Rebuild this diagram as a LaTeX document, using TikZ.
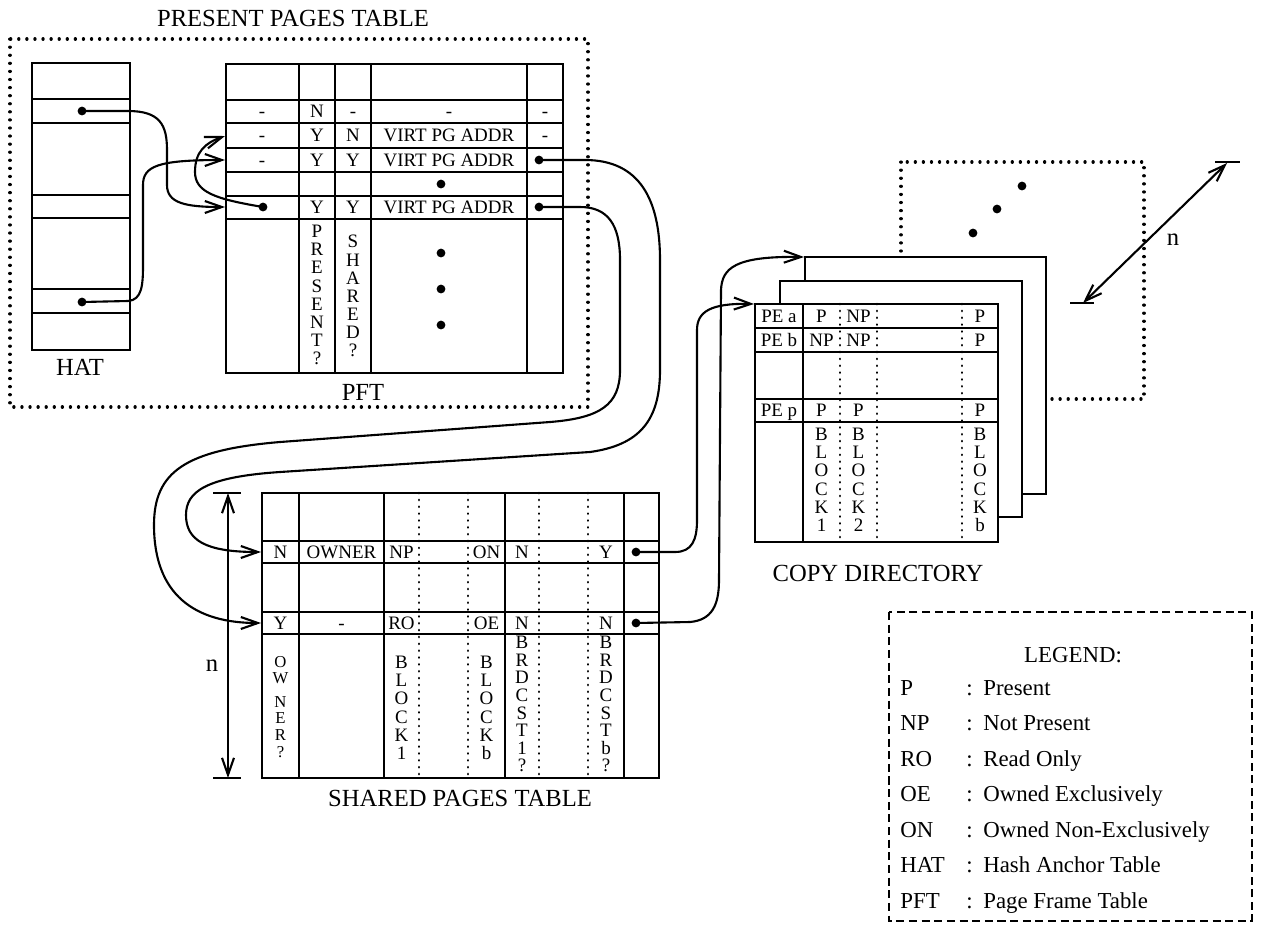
\documentclass[tikz,border=0pt]{standalone}
\usepackage{fontspec}
\setmainfont{Liberation Serif}
\usetikzlibrary{arrows.meta,positioning,calc}

\begin{document}
\begin{tikzpicture}[
  x=0.02cm, y=-0.02cm,
  tbl/.style={line width=1.6pt},
  grid/.style={line width=1.2pt},
  dotline/.style={line width=1.5pt, dash pattern=on 0.1pt off 3.8pt, line cap=round},
  frame/.style={line width=1.8pt, dash pattern=on 0.1pt off 4.5pt, line cap=round},
  legendbox/.style={line width=1.3pt, dash pattern=on 4.6pt off 2.6pt},
  cell/.style={font=\fontsize{10.8}{12}\selectfont, inner sep=0pt, anchor=base},
  stack/.style={font=\fontsize{10.8}{10.3}\selectfont, align=center, inner sep=0pt, anchor=north},
  title/.style={font=\fontsize{14}{16}\selectfont, inner sep=0pt},
  legend/.style={font=\fontsize{13}{15}\selectfont, inner sep=0pt, anchor=base west},
  link/.style={line width=1.2pt, -{Straight Barb[length=3.4mm,width=2.4mm]}},
  dimline/.style={line width=1.2pt, {Straight Barb[length=3.4mm,width=2.4mm]}-{Straight Barb[length=3.4mm,width=2.4mm]}},
  ptr/.style={circle, fill, inner sep=0pt, minimum size=5pt},
]
\useasboundingbox (0,0) rectangle (1261,924);

% --- Present pages table (frame) ---
\draw[frame] (10,39) rectangle (588,407);
\node[title] (pptlbl) at (293,18) {PRESENT PAGES TABLE};

% --- HAT ---
\draw[tbl] (32,63) rectangle (130,350);
\foreach \y in {99,123,195,218,289,313}
  \draw[grid] (32,\y) -- (130,\y);
\node[ptr] (hatA) at (82,111) {};
\node[ptr] (hatB) at (82,302) {};
\node[title] (hatlbl) at (80,367) {HAT};

% --- PFT ---
\draw[tbl] (226,64) rectangle (563,373);
\foreach \y in {100,123,148,172,196,219}
  \draw[grid] (226,\y) -- (563,\y);
\foreach \x in {299,335,371,527}
  \draw[grid] (\x,64) -- (\x,373);
\foreach \n/\x/\y/\t in {a1/262/117.5/-, a2/317/117.5/N, a3/353/117.5/-, a4/449/117.5/-, a5/545/117.5/-,
    b1/262/141.5/-, b2/317/141.5/Y, b3/353/141.5/N, b4/449/141.5/VIRT PG ADDR, b5/545/141.5/-,
    c1/262/166/-, c2/317/166/Y, c3/353/166/Y, c4/449/166/VIRT PG ADDR,
    e2/317/213.5/Y, e3/353/213.5/Y, e4/449/213.5/VIRT PG ADDR}
  \node[cell] (pft-\n) at (\x,\y) {\t};
\node[ptr] (pftR1) at (539,160) {};
\node[ptr] (pftP) at (263,207) {};
\node[ptr] (pftR2) at (539,207) {};
\node[ptr] (pftdot0) at (441,184) {};
\foreach \y [count=\i] in {253,289,325}
  \node[ptr] (pftdot\i) at (441,\y) {};
\node[stack] (present) at (317,225) {P\\R\\E\\S\\E\\N\\T\\?};
\node[stack] (shared) at (353,235) {S\\H\\A\\R\\E\\D\\?};
\node[title] (pftlbl) at (363,392) {PFT};

% --- Shared pages table ---
\draw[tbl] (262,493) rectangle (659,778);
\foreach \y in {541,563,612,634}
  \draw[grid] (262,\y) -- (659,\y);
\foreach \x in {299,384,505,624}
  \draw[grid] (\x,493) -- (\x,778);
\foreach \x in {419,468,539,588}
  \draw[dotline] (\x,493) -- (\x,778);
\foreach \n/\x/\y/\t in {a1/280.5/558/N, a2/341.5/558/OWNER, a3/401.5/558/NP, a4/486.5/558/ON, a5/522/558/N, a6/606/558/Y,
    b1/280.5/629/Y, b2/341.5/629/-, b3/401.5/629/RO, b4/486.5/629/OE, b5/522/629/N, b6/606/629/N}
  \node[cell] (spt-\n) at (\x,\y) {\t};
\node[ptr] (sptR1) at (636,552) {};
\node[ptr] (sptR2) at (636,623) {};
\node[stack, font=\fontsize{9.5}{9.4}\selectfont] (owner) at (280.5,656) {O\\W\\[4pt]N\\E\\R\\?};
\node[stack] (blk1) at (401.5,656) {B\\L\\O\\C\\K\\1};
\node[stack] (blkb) at (486.5,656) {B\\L\\O\\C\\K\\b};
\node[stack, font=\fontsize{10.8}{10}\selectfont] (brd1) at (522,636) {B\\R\\D\\C\\S\\T\\1\\?};
\node[stack, font=\fontsize{10.8}{10}\selectfont] (brdb) at (606,636) {B\\R\\D\\C\\S\\T\\b\\?};
\node[title] (sptlbl) at (460,798) {SHARED PAGES TABLE};

% --- dimension n (shared pages) ---
\draw[grid] (213,493) -- (241,493);
\draw[grid] (213,778) -- (241,778);
\coordinate (ntop) at (228,493);
\coordinate (nbot) at (228,778);
\draw[dimline] (ntop) -- (nbot);
\node[title] (nlbl) at (212,666) {n};

% --- Copy directory ---
\draw[frame] (901,162) rectangle (1144,399);
\foreach \x/\y [count=\i] in {1022/186,997/209,973/233}
  \node[ptr] (cddot\i) at (\x,\y) {};
\draw[tbl, fill=white] (805,257) rectangle (1046,494);
\draw[tbl, fill=white] (780,281) rectangle (1022,517);
\draw[tbl, fill=white] (755,304) rectangle (998,542);
\foreach \y in {328,352,399,422}
  \draw[grid] (755,\y) -- (998,\y);
\draw[grid] (803,304) -- (803,542);
\foreach \x in {840,877,962}
  \draw[dotline] (\x,304) -- (\x,542);
\foreach \n/\x/\y/\t in {a1/779/322/PE a, a2/821.5/322/P, a3/858.5/322/NP, a5/980/322/P,
    b1/779/346/PE b, b2/821.5/346/NP, b3/858.5/346/NP, b5/980/346/P,
    p1/779/416.5/PE p, p2/821.5/416.5/P, p3/858.5/416.5/P, p5/980/416.5/P}
  \node[cell] (cd-\n) at (\x,\y) {\t};
\node[stack] (cdblk1) at (821.5,428) {B\\L\\O\\C\\K\\1};
\node[stack] (cdblk2) at (858.5,428) {B\\L\\O\\C\\K\\2};
\node[stack] (cdblkb) at (980,428) {B\\L\\O\\C\\K\\b};
\node[title] (cdlbl) at (878,573) {COPY DIRECTORY};

% --- dimension n (copy directory) ---
\draw[grid] (1070,303) -- (1094,303);
\draw[grid] (1215,162) -- (1240,162);
\coordinate (mlow) at (1083,303);
\coordinate (mhigh) at (1227,163);
\draw[dimline] (mlow) -- (mhigh);
\node[title] (mlbl) at (1173,240) {n};

% --- arrow ends ---
\coordinate (pft-in2) at (225,136);
\coordinate (pft-in3) at (225,160);
\coordinate (pft-in5) at (225,207);
\coordinate (spt-in1) at (261,552);
\coordinate (spt-in2) at (261,623);
\coordinate (cd-in1) at (754,304);
\coordinate (cd-in3) at (804,257);

% --- connectors ---
\draw[link] (hatA.center) -- (128,111) .. controls (160,111) and (167,125) .. (167,150) -- (167,185) .. controls (167,203) and (185,207) .. (pft-in5);
\draw[link] (hatB.center) -- (128,301) .. controls (142,300) and (143,285) .. (143,265) -- (143,185) .. controls (143,166) and (158,160) .. (pft-in3);
\draw[link] (pftP.center) .. controls (215,199) and (195,192) .. (195,172) .. controls (195,152) and (205,143) .. (pft-in2);
\draw[link] (pftR1.center) -- (585,160) .. controls (640,160) and (660,200) .. (660,260) -- (660,370) .. controls (660,420) and (640,445) .. (590,452) -- (280,472) .. controls (205,477) and (186,492) .. (186,515) .. controls (186,540) and (205,552) .. (spt-in1);
\draw[link] (pftR2.center) -- (580,207) .. controls (608,207) and (620,225) .. (620,260) -- (620,370) .. controls (620,405) and (600,418) .. (550,422) -- (280,442) .. controls (185,450) and (154,472) .. (154,525) .. controls (154,595) and (195,623) .. (spt-in2);
\draw[link] (sptR1.center) -- (675,552) .. controls (692,552) and (697,540) .. (697,520) -- (697,330) .. controls (697,312) and (710,303) .. (cd-in1);
\draw[link] (sptR2.center) -- (690,622) .. controls (712,620) and (719,605) .. (719,580) -- (721,290) .. controls (722,268) and (735,256) .. (cd-in3);

% --- Legend ---
\draw[legendbox] (889,612) rectangle (1252,921);
\node[font=\fontsize{13}{15}\selectfont] (legtitle) at (1073,655) {LEGEND:};
\foreach \k/\v [count=\i] in {P/Present, NP/Not Present, RO/Read Only, OE/Owned Exclusively, ON/Owned Non-Exclusively, HAT/Hash Anchor Table, PFT/Page Frame Table} {
  \node[legend] (key\i) at (900,{659.5+35.5*\i}) {\k};
  \node[legend] (sep\i) at (966,{659.5+35.5*\i}) {:};
  \node[legend] (val\i) at (983,{659.5+35.5*\i}) {\v};
}

\end{tikzpicture}
\end{document}
